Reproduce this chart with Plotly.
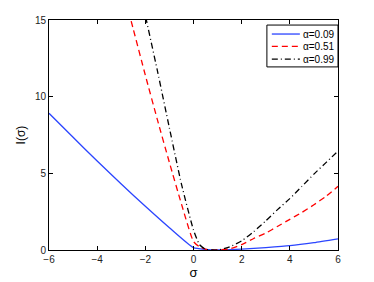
import plotly.graph_objects as go

sigma_a = [-6, -5, -4, -3, -2, -1, 0, 0.5, 1, 1.5, 2, 3, 4, 5, 6]
rate_a = [8.92, 7.35, 5.8, 4.3, 2.85, 1.45, 0.15, 0.04, 0.0, 0.02, 0.06, 0.16, 0.28, 0.48, 0.73]

sigma_b = [-2.8, -2.5, -2, -1.5, -1, -0.5, 0, 0.25, 0.5, 0.75, 1, 1.5, 2, 2.5, 3, 3.5, 4, 4.5, 5, 5.5, 6]
rate_b = [16.2, 14.4, 11.4, 8.5, 5.7, 3.0, 0.55, 0.2, 0.05, 0.0, 0.0, 0.08, 0.35, 0.75, 1.1, 1.55, 2.0, 2.45, 2.95, 3.5, 4.15]

sigma_c = [-2.1, -2, -1.5, -1, -0.5, 0, 0.25, 0.5, 0.75, 1, 1.5, 2, 2.5, 3, 3.5, 4, 4.5, 5, 5.5, 6]
rate_c = [16.0, 15.3, 11.7, 7.95, 4.3, 1.3, 0.35, 0.05, 0.0, 0.0, 0.2, 0.6, 1.2, 1.9, 2.65, 3.35, 4.15, 4.95, 5.7, 6.45]

labels = ["α=0.09", "α=0.51", "α=0.99"]
colors = ["#2b45ff", "#ff0000", "#000000"]
dashes = ["solid", "6px,4px", "6px,3px,1px,3px"]

FONT = "Liberation Sans, Arial, sans-serif"

fig = go.Figure()
for xs, ys, lab, col, dsh in zip([sigma_a, sigma_b, sigma_c], [rate_a, rate_b, rate_c], labels, colors, dashes):
    fig.add_trace(go.Scatter(x=xs, y=ys, mode="lines", name=lab, showlegend=False,
                             line=dict(color=col, width=1.3, dash=dsh, shape="spline", smoothing=0.5)))

axis_common = dict(showgrid=False, zeroline=False, showline=True, linecolor="#000000", linewidth=1,
                   mirror="ticks", ticks="inside", ticklen=4, tickcolor="#000000", automargin=False,
                   tickfont=dict(family=FONT, size=10, color="#222222"))

fig.update_xaxes(range=[-6, 6], tickvals=[-6, -4, -2, 0, 2, 4, 6],
                 ticktext=["−6", "−4", "−2", "0", "2", "4", "6"],
                 title=dict(text="σ", font=dict(family=FONT, size=13, color="#000000"), standoff=0),
                 **axis_common)
fig.update_yaxes(range=[0, 15], tickvals=[0, 5, 10, 15],
                 title=dict(text="I(σ)", font=dict(family=FONT, size=12, color="#000000"), standoff=6),
                 **axis_common)

# legend box drawn manually (compact, MATLAB-style)
shapes = [dict(type="rect", xref="paper", yref="paper", x0=0.754, x1=1.0, y0=0.796, y1=0.978,
               line=dict(color="#000000", width=1), fillcolor="white", layer="above")]
annotations = []
row_y = [0.939, 0.885, 0.830]
for lab, col, dsh, yy in zip(labels, colors, dashes, row_y):
    shapes.append(dict(type="line", xref="paper", yref="paper", x0=0.771, x1=0.868, y0=yy, y1=yy,
                       line=dict(color=col, width=1.3, dash=dsh), layer="above"))
    annotations.append(dict(xref="paper", yref="paper", x=0.872, y=yy, text=lab, showarrow=False,
                            xanchor="left", yanchor="middle",
                            font=dict(family=FONT, size=10, color="#000000")))

fig.update_layout(
    width=366, height=274,
    margin=dict(l=41, r=36, t=12, b=32),
    paper_bgcolor="white", plot_bgcolor="white",
    showlegend=False,
    shapes=shapes, annotations=annotations,
)

fig.write_html("out.html")
